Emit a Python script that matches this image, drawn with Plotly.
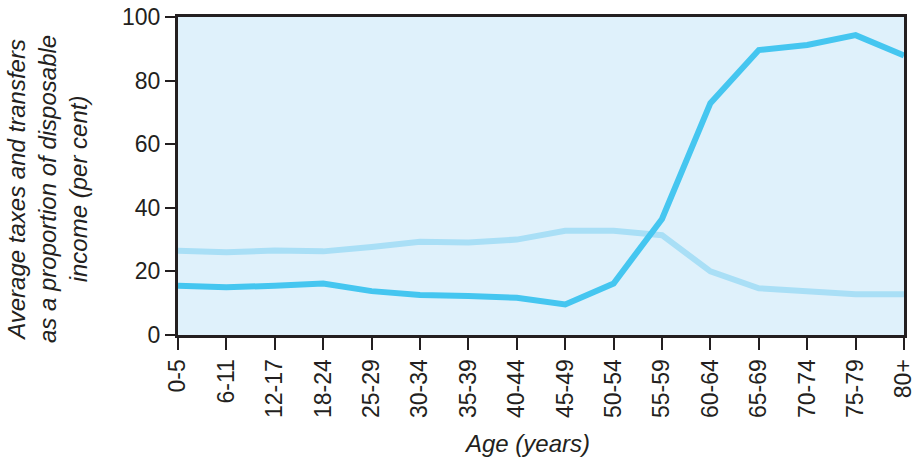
import plotly.graph_objects as go

# Age groups along the horizontal axis
age_groups = ["0-5", "6-11", "12-17", "18-24", "25-29", "30-34", "35-39", "40-44",
              "45-49", "50-54", "55-59", "60-64", "65-69", "70-74", "75-79", "80+"]

# Average taxes paid, % of disposable income
taxes = [26.5, 26.0, 26.6, 26.3, 27.7, 29.3, 29.1, 30.0,
         32.8, 32.8, 31.4, 20.0, 14.7, 13.6, 12.8, 12.8]

# Average transfers received, % of disposable income
transfers = [15.5, 15.0, 15.5, 16.2, 13.8, 12.6, 12.3, 11.7,
             9.6, 16.2, 36.5, 72.9, 89.6, 91.2, 94.3, 87.9]

y_ticks = [0, 20, 40, 60, 80, 100]

TEXT = "#231F20"
FONT = "Liberation Sans, Arial, sans-serif"

fig = go.Figure()
fig.add_trace(go.Scatter(
    x=age_groups, y=taxes, name="Taxes", mode="lines",
    line=dict(color="#A9DFF6", width=6),
))
fig.add_trace(go.Scatter(
    x=age_groups, y=transfers, name="Transfers", mode="lines",
    line=dict(color="#45C6F0", width=6),
))

fig.update_layout(
    width=920, height=460,
    margin=dict(l=178, r=16, t=17, b=125),
    paper_bgcolor="white",
    plot_bgcolor="#DFF1FB",
    showlegend=False,
    font=dict(family=FONT, size=21, color=TEXT),
)

fig.update_xaxes(
    type="category",
    range=[0, len(age_groups) - 1],
    tickmode="array", tickvals=age_groups, ticktext=age_groups,
    tickangle=-90,
    ticks="outside", ticklen=12, tickwidth=2, tickcolor=TEXT,
    showline=True, linewidth=3, linecolor=TEXT, mirror=True,
    showgrid=False, zeroline=False, automargin=False,
    tickfont=dict(family=FONT, size=23, color=TEXT),
)
fig.update_yaxes(
    range=[0, 100],
    tickmode="array", tickvals=y_ticks,
    ticks="outside", ticklen=10, tickwidth=2, tickcolor=TEXT,
    showline=True, linewidth=3, linecolor=TEXT, mirror=True,
    showgrid=False, zeroline=False, automargin=False,
    tickfont=dict(family=FONT, size=23, color=TEXT),
)

fig.add_annotation(
    text="<i>Average taxes and transfers<br>as a proportion of disposable<br>income (per cent)</i>",
    xref="paper", yref="paper", x=-0.18, y=0.46,
    xanchor="center", yanchor="middle", textangle=-90,
    showarrow=False, align="center",
    font=dict(family=FONT, size=24, color=TEXT),
)
fig.add_annotation(
    text="<i>Age (years)</i>",
    xref="paper", yref="paper", x=0.481, y=-0.34,
    xanchor="center", yanchor="middle",
    showarrow=False,
    font=dict(family=FONT, size=24, color=TEXT),
)

fig.write_html("out.html")
